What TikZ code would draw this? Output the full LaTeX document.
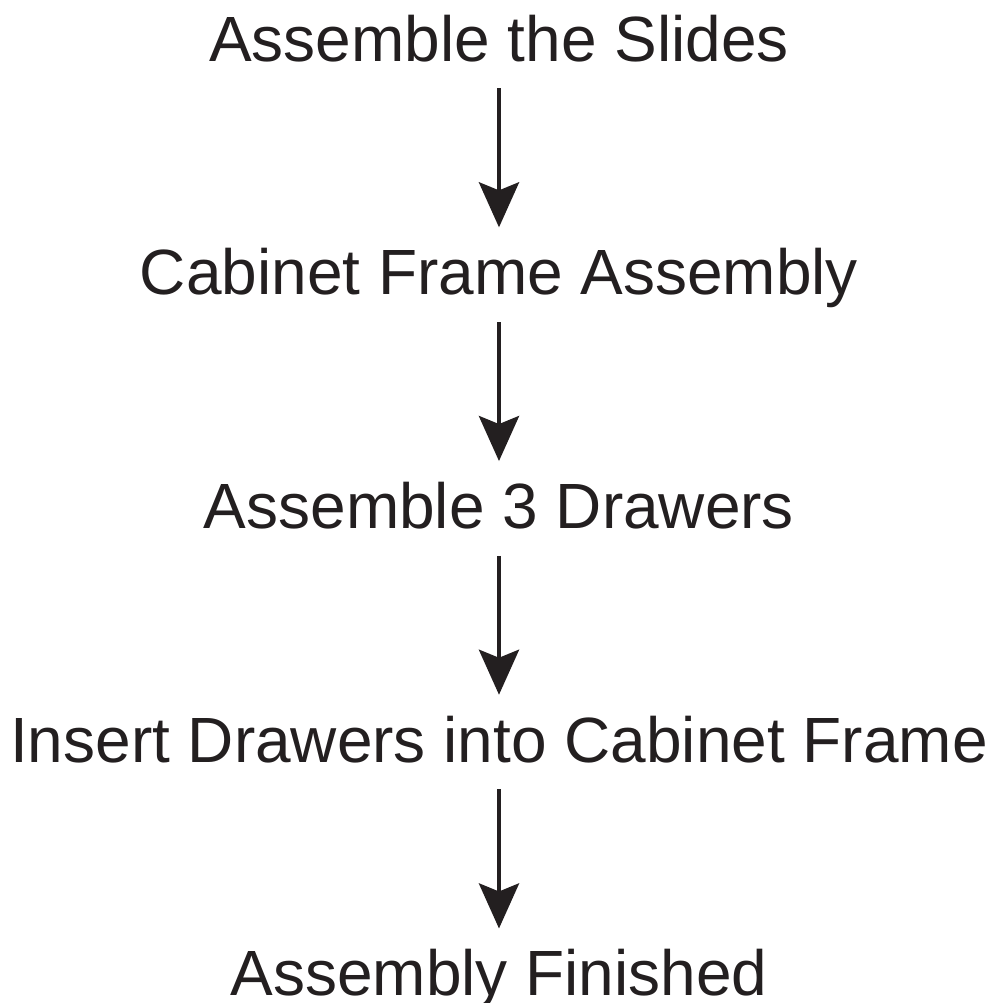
\documentclass[tikz,border=0pt]{standalone}
\usepackage{fontspec}
\setmainfont{Liberation Sans}
\usetikzlibrary{arrows.meta,positioning}
\definecolor{ink}{HTML}{231F20}
\tikzset{>={Stealth[length=0.9cm,width=0.8cm,inset=0.16cm]}}
\tikzset{
  stage/.style={text=ink, font=\fontsize{36.4pt}{40pt}\selectfont, inner sep=0pt, text height=0.92cm, text depth=0.54cm},
  flow/.style={->, draw=ink, fill=ink, line width=0.09cm, shorten >=0.42cm}
}

\begin{document}
\begin{tikzpicture}
  \useasboundingbox (-9.98,1.22) rectangle (9.90,-18.84);
  % steps
  \node (slides) at (0,0) [stage, anchor=base] {Assemble the Slides};
  \node (frame) [stage, below=3.2cm of slides] {Cabinet Frame Assembly};
  \node (drawers) [stage, below=3.2cm of frame] {Assemble 3 Drawers};
  \node (insert) [stage, below=3.2cm of drawers] {Insert Drawers into Cabinet Frame};
  \node (finished) [stage, below=3.2cm of insert] {Assembly Finished};
  % arrows
  \foreach \a/\b in {slides/frame, frame/drawers, drawers/insert, insert/finished}
    \draw[flow] (\a.south) -- (\b.north);
\end{tikzpicture}
\end{document}
